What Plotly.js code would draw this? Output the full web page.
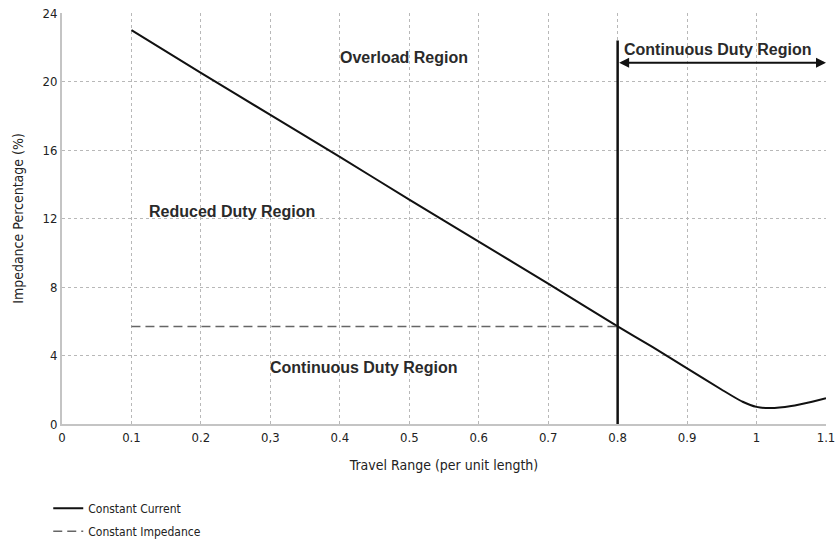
<!DOCTYPE html>
<html><head><meta charset="utf-8">
<script src="https://cdn.plot.ly/plotly-3.0.1.min.js"></script>
<style>html,body{margin:0;padding:0;background:#fff}#chart{width:835px;height:541px}</style>
</head><body><div id="chart"></div>
<script>
// Data
const currentX = [0.1, 0.2, 0.3, 0.4, 0.5, 0.6, 0.7, 0.8, 0.85, 0.9, 0.95, 0.98, 1.0, 1.02, 1.05, 1.08, 1.1];
const currentY = [23.0, 20.5, 18.05, 15.6, 13.1, 10.65, 8.2, 5.7, 4.5, 3.25, 2.0, 1.3, 1.0, 0.93, 1.05, 1.3, 1.5];
const impedanceX = [0.1, 0.8];
const impedanceY = [5.7, 5.7];
const boundaryX = [0.8, 0.8];
const boundaryY = [0, 22.4];
const arrowX = [0.8, 1.1];
const arrowY = [21.1, 21.1];
const xTickVals = [0, 0.1, 0.2, 0.3, 0.4, 0.5, 0.6, 0.7, 0.8, 0.9, 1.0, 1.1];
const xTickText = ["0", "0.1", "0.2", "0,3", "0.4", "0.5", "0.6", "0.7", "0.8", "0.9", "1", "1.1"];
const yTickVals = [0, 4, 8, 12, 16, 20, 24];
const regionLabels = ["Overload Region", "Continuous Duty Region", "Reduced Duty Region", "Continuous Duty Region"];
const regionX = [0.492, 0.945, 0.245, 0.435];
const regionY = [21.4, 21.85, 12.4, 3.3];

const narrow = '"Liberation Sans Narrow", "DejaVu Sans Condensed", "Liberation Sans", sans-serif';
const boldFont = '"Liberation Sans", Arial, sans-serif';

const traces = [
  {x: currentX, y: currentY, type: 'scatter', mode: 'lines', name: 'Constant Current',
   line: {color: '#111', width: 2, shape: 'spline', smoothing: 0.6}, legendgroup: 'a'},
  {x: impedanceX, y: impedanceY, type: 'scatter', mode: 'lines', name: 'Constant Impedance',
   line: {color: '#666', width: 1.5, dash: '9px,5px'}, legendgroup: 'b'},
  {x: boundaryX, y: boundaryY, type: 'scatter', mode: 'lines', showlegend: false,
   line: {color: '#111', width: 2.5}, hoverinfo: 'skip'}
];

const annotations = regionLabels.map((t, i) => ({
  x: regionX[i], y: regionY[i], xref: 'x', yref: 'y', text: '<b>' + t + '</b>', showarrow: false,
  font: {family: boldFont, size: 16, color: '#2a2a2a'}
}));
annotations.push({
  x: arrowX[1], y: arrowY[1], ax: arrowX[0], ay: arrowY[0], xref: 'x', yref: 'y', axref: 'x', ayref: 'y',
  text: '', showarrow: true, arrowhead: 2, startarrowhead: 2, arrowside: 'end+start', arrowwidth: 2,
  arrowsize: 1, startarrowsize: 1, arrowcolor: '#111'
});

const layout = {
  width: 835, height: 541,
  margin: {l: 62, r: 9, t: 13, b: 117, autoexpand: false},
  paper_bgcolor: '#fff', plot_bgcolor: '#fff',
  showlegend: true,
  legend: {x: -0.018, y: -0.17, xanchor: 'left', yanchor: 'top', orientation: 'v',
    font: {family: narrow, size: 12, color: '#222'}, tracegroupgap: 4, itemwidth: 30, bgcolor: 'rgba(0,0,0,0)'},
  xaxis: {
    range: [0, 1.1], tickvals: xTickVals, ticktext: xTickText,
    showgrid: true, gridcolor: '#b8b8b8', griddash: 'dot', gridwidth: 1,
    showline: true, linecolor: '#c4c4c4', linewidth: 2, zeroline: false,
    ticks: '', tickfont: {family: narrow, size: 13, color: '#222'}, ticklabeloverflow: 'allow',
    title: {text: 'Travel Range (per unit length)', font: {family: narrow, size: 14, color: '#222'}, standoff: 17},
    fixedrange: true, automargin: true
  },
  yaxis: {
    range: [0, 24], tickvals: yTickVals,
    showgrid: true, gridcolor: '#b8b8b8', griddash: 'dot', gridwidth: 1,
    showline: true, linecolor: '#c4c4c4', linewidth: 2, zeroline: false,
    ticks: '', tickfont: {family: narrow, size: 13, color: '#222'},
    title: {text: 'Impedance Percentage (%)', font: {family: narrow, size: 14, color: '#222'}, standoff: 16},
    fixedrange: true, automargin: true
  },
  annotations: annotations
};

Plotly.newPlot('chart', traces, layout, {displayModeBar: false, staticPlot: true});
</script></body></html>
